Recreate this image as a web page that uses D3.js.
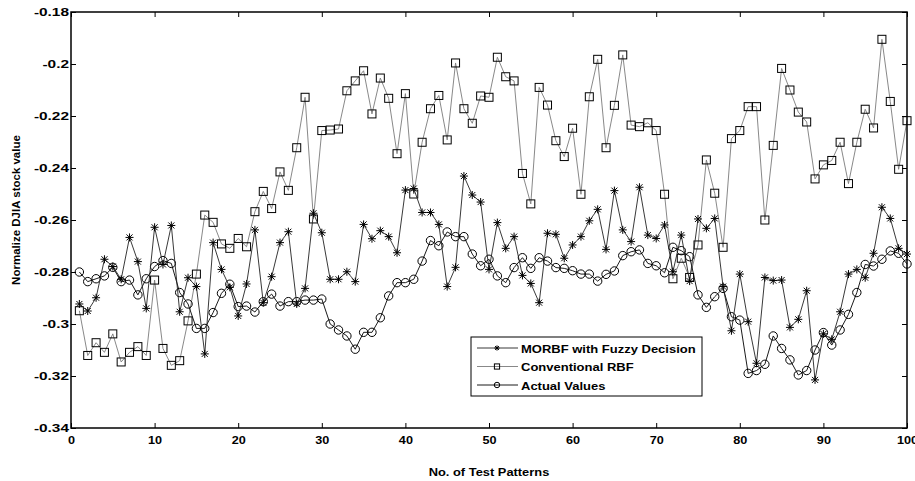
<!DOCTYPE html>
<html lang="en">
<head>
<meta charset="UTF-8">
<title>DJIA test patterns</title>
<style>
  body { margin: 0; background: #fff; }
  text { font-family: "Liberation Sans", Arial, sans-serif; font-weight: bold; fill: #000; }
</style>
</head>
<body>
<script src="https://d3js.org/d3.v7.min.js"></script>
<script>
// MORBF with fuzzy decision (asterisk)
const morbf = [-0.2923,-0.2950,-0.2899,-0.2751,-0.2779,-0.2828,-0.2667,-0.2760,-0.2940,-0.2628,
  -0.2771,-0.2621,-0.2953,-0.2822,-0.2856,-0.3115,-0.2687,-0.2790,-0.2859,-0.2969,
  -0.2846,-0.2638,-0.2918,-0.2818,-0.2687,-0.2645,-0.2923,-0.2863,-0.2574,-0.2649,
  -0.2828,-0.2828,-0.2799,-0.2837,-0.2617,-0.2672,-0.2641,-0.2664,-0.2726,-0.2485,
  -0.2479,-0.2571,-0.2571,-0.2617,-0.2856,-0.2782,-0.2431,-0.2504,-0.2531,-0.2790,
  -0.2610,-0.2709,-0.2664,-0.2813,-0.2844,-0.2918,-0.2651,-0.2655,-0.2747,-0.2696,
  -0.2664,-0.2603,-0.2559,-0.2713,-0.2487,-0.2638,-0.2683,-0.2474,-0.2658,-0.2671,
  -0.2619,-0.2799,-0.2658,-0.2835,-0.2596,-0.2632,-0.2594,-0.2856,-0.3026,-0.2808,
  -0.2991,-0.3151,-0.2821,-0.2833,-0.2831,-0.3013,-0.2982,-0.2872,-0.3215,-0.3038,
  -0.3059,-0.2953,-0.2808,-0.2790,-0.2822,-0.2728,-0.2551,-0.2594,-0.2709,-0.2731];

// Conventional RBF (square)
const rbf = [-0.2949,-0.3121,-0.3072,-0.3109,-0.3038,-0.3146,-0.3109,-0.3087,-0.3121,-0.2831,
  -0.3094,-0.3159,-0.3141,-0.2988,-0.2808,-0.2581,-0.2609,-0.2692,-0.2709,-0.2671,
  -0.2703,-0.2568,-0.2490,-0.2556,-0.2415,-0.2486,-0.2322,-0.2128,-0.2596,-0.2256,
  -0.2254,-0.2250,-0.2103,-0.2065,-0.2026,-0.2192,-0.2054,-0.2132,-0.2345,-0.2114,
  -0.2500,-0.2301,-0.2172,-0.2121,-0.2292,-0.1996,-0.2172,-0.2228,-0.2123,-0.2128,
  -0.1974,-0.2049,-0.2065,-0.2421,-0.2538,-0.2090,-0.2158,-0.2295,-0.2356,-0.2247,
  -0.2501,-0.2126,-0.1982,-0.2322,-0.2159,-0.1965,-0.2235,-0.2241,-0.2226,-0.2256,
  -0.2501,-0.2826,-0.2747,-0.2821,-0.2696,-0.2369,-0.2497,-0.2705,-0.2287,-0.2256,
  -0.2164,-0.2164,-0.2600,-0.2313,-0.2017,-0.2100,-0.2185,-0.2223,-0.2442,-0.2388,
  -0.2371,-0.2301,-0.2460,-0.2301,-0.2174,-0.2246,-0.1905,-0.2144,-0.2405,-0.2218];

// Actual values (circle)
const actual = [-0.2800,-0.2837,-0.2826,-0.2815,-0.2782,-0.2837,-0.2831,-0.2888,-0.2826,-0.2779,
  -0.2756,-0.2767,-0.2879,-0.2923,-0.3017,-0.3017,-0.2956,-0.2882,-0.2847,-0.2933,
  -0.2931,-0.2954,-0.2914,-0.2885,-0.2931,-0.2914,-0.2914,-0.2908,-0.2908,-0.2904,
  -0.3000,-0.3023,-0.3046,-0.3097,-0.3032,-0.3032,-0.2976,-0.2892,-0.2841,-0.2841,
  -0.2828,-0.2758,-0.2679,-0.2699,-0.2646,-0.2664,-0.2664,-0.2731,-0.2776,-0.2751,
  -0.2815,-0.2841,-0.2783,-0.2745,-0.2786,-0.2745,-0.2758,-0.2783,-0.2786,-0.2795,
  -0.2808,-0.2808,-0.2835,-0.2809,-0.2796,-0.2737,-0.2722,-0.2715,-0.2767,-0.2776,
  -0.2803,-0.2705,-0.2718,-0.2741,-0.2888,-0.2936,-0.2895,-0.2863,-0.2972,-0.2985,
  -0.3190,-0.3179,-0.3155,-0.3046,-0.3094,-0.3138,-0.3196,-0.3179,-0.3100,-0.3033,
  -0.3081,-0.3023,-0.2963,-0.2879,-0.2771,-0.2777,-0.2751,-0.2719,-0.2728,-0.2769];

const xTicks = [0, 10, 20, 30, 40, 50, 60, 70, 80, 90, 100];
const yTicks = [-0.18, -0.2, -0.22, -0.24, -0.26, -0.28, -0.3, -0.32, -0.34];
const legendLabels = ["MORBF with Fuzzy Decision", "Conventional RBF", "Actual Values"];

const W = 915, H = 481;
const margin = { top: 12, right: 8, bottom: 53, left: 71 };
const width = W - margin.left - margin.right;
const height = H - margin.top - margin.bottom;

const svg = d3.select("body").append("svg")
  .attr("width", W).attr("height", H);
const g = svg.append("g")
  .attr("transform", `translate(${margin.left},${margin.top})`);

const x = d3.scaleLinear().domain([0, 100]).range([0, width]);
const y = d3.scaleLinear().domain([-0.34, -0.18]).range([height, 0]);

// markers (k = scale, smaller in the legend)
const markers = {
  star: (sel, k = 1) => sel.append("path")
    .attr("d", `M${-4*k},0H${4*k}M0,${-4*k}V${4*k}M${-3*k},${-3*k}L${3*k},${3*k}M${-3*k},${3*k}L${3*k},${-3*k}`)
    .attr("stroke", "#000").attr("stroke-width", 1).attr("fill", "none"),
  square: (sel, k = 1) => sel.append("rect").attr("x", -4 * k).attr("y", -4 * k)
    .attr("width", 8 * k).attr("height", 8 * k)
    .attr("stroke", "#000").attr("stroke-width", 1).attr("fill", "none"),
  circle: (sel, k = 1) => sel.append("circle").attr("r", 4.2 * k)
    .attr("stroke", "#000").attr("stroke-width", 1).attr("fill", "none")
};

const series = [
  { values: rbf, color: "#7a7a7a", marker: "square" },
  { values: actual, color: "#000", marker: "circle" },
  { values: morbf, color: "#222", marker: "star" }
];

const line = d3.line().x((d, i) => x(i + 1)).y(d => y(d));

series.forEach(s => {
  g.append("path").datum(s.values)
    .attr("fill", "none")
    .attr("stroke", s.color)
    .attr("stroke-width", 0.9)
    .attr("d", line);
  const pts = g.append("g").selectAll("g")
    .data(s.values)
    .join("g")
    .attr("transform", (d, i) => `translate(${x(i + 1)},${y(d)})`);
  markers[s.marker](pts);
});

// axes (MATLAB style: ticks inward on all sides)
const tickLen = 5;
const xb = g.append("g").attr("transform", `translate(0,${height})`)
  .call(d3.axisBottom(x).tickValues(xTicks).tickSizeInner(-tickLen).tickSizeOuter(0).tickPadding(8));
const xt = g.append("g")
  .call(d3.axisTop(x).tickValues(xTicks).tickSizeInner(-tickLen).tickSizeOuter(0).tickFormat(""));
const yl = g.append("g")
  .call(d3.axisLeft(y).tickValues(yTicks).tickSizeInner(-tickLen).tickSizeOuter(0).tickPadding(3)
    .tickFormat(d => String(+d.toFixed(2))));
const yr = g.append("g").attr("transform", `translate(${width},0)`)
  .call(d3.axisRight(y).tickValues(yTicks).tickSizeInner(-tickLen).tickSizeOuter(0).tickFormat(""));

[xb, xt, yl, yr].forEach(a => {
  a.select(".domain").remove();
  a.selectAll("line").attr("stroke", "#000");
  a.selectAll("text").attr("font-size", 11).style("font-family", "'Liberation Sans', Arial, sans-serif")
    .attr("font-weight", "bold");
});
xb.selectAll("text").attr("font-size", 11.5).attr("transform", "scale(1.1,1)");
// reference text is stretched horizontally
yl.selectAll("text").attr("x", -2 / 1.4).attr("transform", "scale(1.4,1)");

g.append("rect").attr("width", width).attr("height", height)
  .attr("fill", "none").attr("stroke", "#000").attr("stroke-width", 1.5);

// axis labels
svg.append("text")
  .attr("transform", `translate(${margin.left + width / 2},476) scale(1.17,1)`)
  .attr("text-anchor", "middle").attr("font-size", 11)
  .text("No. of Test Patterns");
svg.append("text")
  .attr("transform", `translate(20,210) rotate(-90)`)
  .attr("text-anchor", "middle").attr("font-size", 11.5)
  .text("Normalize DJIA stock value");

// legend
const lg = svg.append("g").attr("transform", "translate(471,337)");
lg.append("rect").attr("width", 231).attr("height", 59)
  .attr("fill", "#fff").attr("stroke", "#000").attr("stroke-width", 1);
const legendSeries = [
  { color: "#222", marker: "star" },
  { color: "#7a7a7a", marker: "square" },
  { color: "#000", marker: "circle" }
];
legendLabels.forEach((lab, i) => {
  const row = lg.append("g").attr("transform", `translate(0,${11 + i * 18.5})`);
  row.append("line").attr("x1", 6).attr("x2", 47)
    .attr("stroke", legendSeries[i].color).attr("stroke-width", 0.9);
  markers[legendSeries[i].marker](row.append("g").attr("transform", "translate(26,0)"), 0.65);
  row.append("text").attr("transform", "translate(50,4.5) scale(1.13,1)")
    .attr("font-size", 11.5).text(lab);
});
</script>
</body>
</html>
